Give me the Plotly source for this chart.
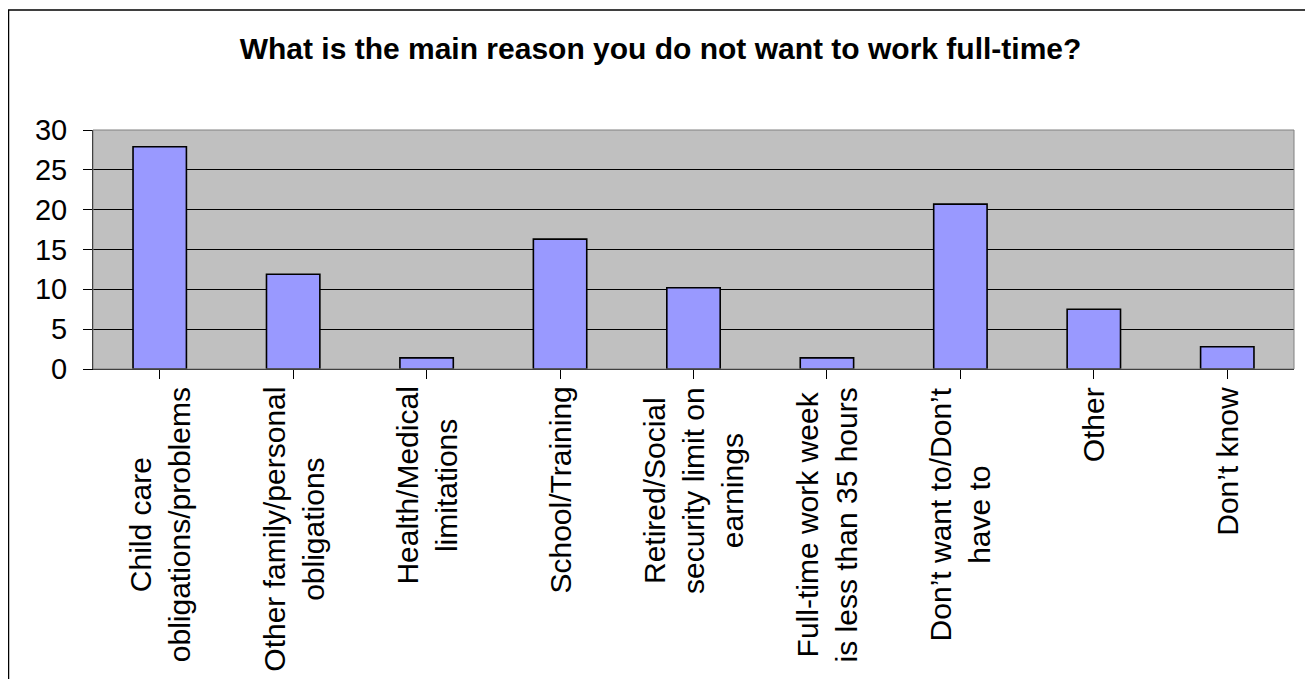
import plotly.graph_objects as go

categories = [
    "Child care<br>obligations/problems",
    "Other family/personal<br>obligations",
    "Health/Medical<br>limitations",
    "School/Training",
    "Retired/Social<br>security limit on<br>earnings",
    "Full-time work week<br>is less than 35 hours",
    "Don\u2019t want to/Don\u2019t<br>have to",
    "Other",
    "Don\u2019t know",
]
values = [27.9, 11.9, 1.4, 16.3, 10.2, 1.4, 20.7, 7.5, 2.8]
y_ticks = [0, 5, 10, 15, 20, 25, 30]
title_text = "What is the main reason you do not want to work full-time?"

FONT = "Liberation Sans, Arial, sans-serif"

# page has an 8px body margin; figure sized so the screenshot matches
OFF = 8
W, H = 1313 - OFF, 679 - OFF
L = 93 - OFF
T = 130 - OFF
R = W - (1294 - OFF)
B = H - (369 - OFF)
pw = W - L - R
ph = H - T - B

fig = go.Figure()
fig.add_trace(go.Bar(
    x=list(range(len(categories))),
    y=values,
    marker=dict(color="#9999FF", line=dict(color="black", width=1.6)),
    width=0.4,
    hoverinfo="skip",
))

annotations = []
for i, c in enumerate(categories):
    annotations.append(dict(
        x=i, xref="x", y=0, yref="paper",
        text=c, showarrow=False, textangle=-90,
        xanchor="center", yanchor="top", align="center",
        yshift=-16,
        font=dict(family=FONT, size=30, color="black"),
    ))

def py(pix):
    return ((369 - OFF) - (pix - OFF)) / ph

def px(pix):
    return ((pix - OFF) - L) / pw

shapes = [
    dict(type="rect", xref="paper", yref="paper", x0=0, x1=1, y0=0, y1=1,
         line=dict(color="#808080", width=1), layer="above"),
    dict(type="rect", xref="paper", yref="paper",
         x0=px(8.5), x1=px(1309), y0=py(760), y1=py(10),
         line=dict(color="black", width=1.5), layer="above"),
]

fig.update_layout(
    width=W, height=H,
    margin=dict(l=L, r=R, t=T, b=B, pad=0),
    paper_bgcolor="white",
    plot_bgcolor="#C0C0C0",
    showlegend=False,
    bargap=0.6,
    title=dict(text="<b>" + title_text + "</b>", x=0.5, xref="container",
               y=1 - (48 - OFF) / H, yref="container", yanchor="middle", xanchor="center",
               font=dict(family=FONT, size=30, color="black")),
    xaxis=dict(
        range=[-0.5, len(categories) - 0.5],
        tickmode="array", tickvals=list(range(len(categories))),
        ticktext=[""] * len(categories),
        tickson="boundaries", ticks="outside", ticklen=9, tickcolor="black",
        tickwidth=1,
        showline=True, linecolor="black", linewidth=1,
        showgrid=False, zeroline=False,
    ),
    yaxis=dict(
        range=[0, 30], tickmode="array", tickvals=y_ticks,
        ticks="outside", ticklen=9, tickcolor="black", tickwidth=1,
        ticklabelstandoff=10,
        showline=True, linecolor="black", linewidth=1,
        showgrid=True, gridcolor="black", gridwidth=1,
        zeroline=False,
        tickfont=dict(family=FONT, size=29, color="black"),
    ),
    annotations=annotations,
    shapes=shapes,
)

fig.write_html("out.html")
